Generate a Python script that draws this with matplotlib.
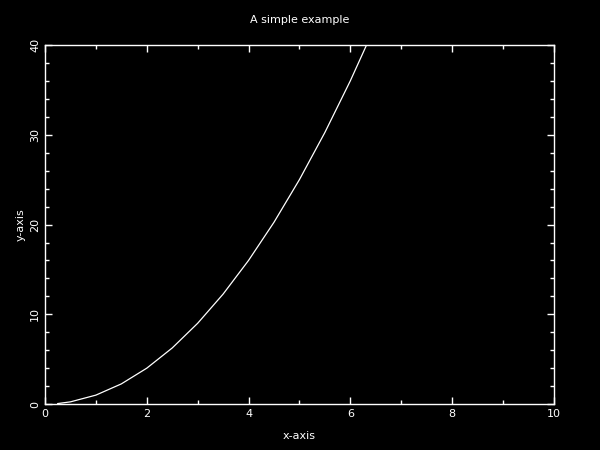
import matplotlib
matplotlib.use('Agg')
import matplotlib.pyplot as plt
from matplotlib.ticker import MultipleLocator

# values
x_vals = [0.25, 0.5, 1.0, 1.5, 2.0, 2.5, 3.0, 3.5, 4.0, 4.5, 5.0, 5.5, 6.0, 6.4]
y_vals = [0.06, 0.25, 1.0, 2.25, 4.0, 6.25, 9.0, 12.25, 16.0, 20.25, 25.0, 30.25, 36.0, 41.0]

title = "A simple example"
x_label = "x-axis"
y_label = "y-axis"

fg = 'white'
bg = 'black'
plt.rcParams['font.family'] = 'DejaVu Sans'

fig = plt.figure(figsize=(6, 4.5), dpi=100)
fig.patch.set_facecolor(bg)
ax = fig.add_axes([0.075, 0.102, 0.848, 0.798])
ax.set_facecolor(bg)

ax.plot(x_vals, y_vals, color=fg, linewidth=0.9)

ax.set_xlim(0, 10)
ax.set_ylim(0, 40)
ax.xaxis.set_major_locator(MultipleLocator(2))
ax.xaxis.set_minor_locator(MultipleLocator(1))
ax.yaxis.set_major_locator(MultipleLocator(10))
ax.yaxis.set_minor_locator(MultipleLocator(2))

for spine in ax.spines.values():
    spine.set_color(fg)
    spine.set_linewidth(1)

ax.tick_params(which='both', direction='in', colors=fg, top=True, right=True,
               labelsize=8, width=1)
ax.tick_params(which='major', length=5)
ax.tick_params(which='minor', length=3)
for lbl in ax.get_yticklabels():
    lbl.set_rotation(90)
    lbl.set_va('center')

ax.set_xlabel(x_label, color=fg, fontsize=8, labelpad=9)
ax.set_ylabel(y_label, color=fg, fontsize=8, labelpad=3)
ax.set_title(title, color=fg, fontsize=8, pad=16)

fig.savefig('out.png', dpi=100, facecolor=bg)
